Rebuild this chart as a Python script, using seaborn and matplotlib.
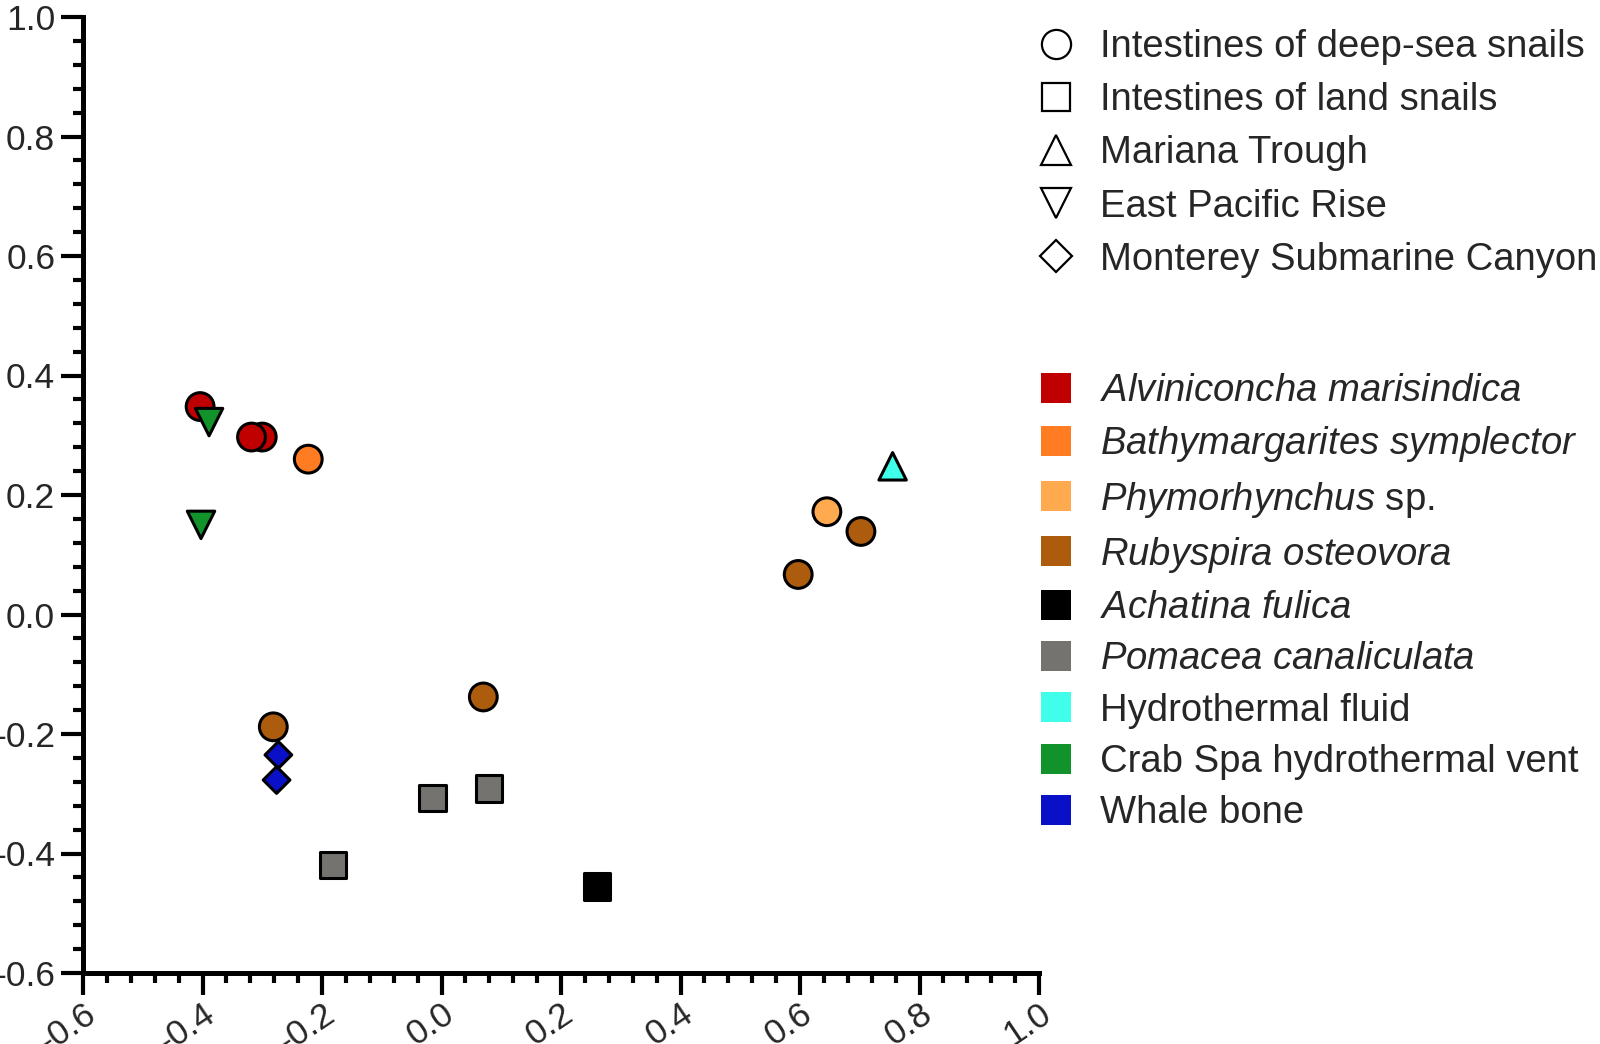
import numpy as np
import pandas as pd
import matplotlib
matplotlib.use("Agg")
import matplotlib.pyplot as plt
from matplotlib.lines import Line2D
from matplotlib.ticker import MultipleLocator, FixedLocator
import seaborn as sns

# ---------------- data ----------------
x_vals = [-0.404, -0.300, -0.318, -0.223, 0.645, -0.2815, 0.070, 0.597, 0.702,
          0.260, -0.182, -0.015, 0.080, 0.755, -0.389, -0.4025, -0.273, -0.276]
y_vals = [0.348, 0.297, 0.297, 0.260, 0.172, -0.188, -0.138, 0.067, 0.139,
          -0.455, -0.419, -0.307, -0.291, 0.248, 0.322, 0.150, -0.235, -0.277]
species = ["Alviniconcha marisindica"] * 3 + ["Bathymargarites symplector"] + \
          ["Phymorhynchus sp."] + ["Rubyspira osteovora"] * 4 + ["Achatina fulica"] + \
          ["Pomacea canaliculata"] * 3 + ["Hydrothermal fluid"] + \
          ["Crab Spa hydrothermal vent"] * 2 + ["Whale bone"] * 2
habitat = ["Intestines of deep-sea snails"] * 9 + ["Intestines of land snails"] * 4 + \
          ["Mariana Trough"] + ["East Pacific Rise"] * 2 + ["Monterey Submarine Canyon"] * 2

species_order = ["Alviniconcha marisindica", "Bathymargarites symplector", "Phymorhynchus sp.",
                 "Rubyspira osteovora", "Achatina fulica", "Pomacea canaliculata",
                 "Hydrothermal fluid", "Crab Spa hydrothermal vent", "Whale bone"]
species_labels = [r"$\mathit{Alviniconcha\ marisindica}$", r"$\mathit{Bathymargarites\ symplector}$",
                  r"$\mathit{Phymorhynchus}$ sp.", r"$\mathit{Rubyspira\ osteovora}$",
                  r"$\mathit{Achatina\ fulica}$", r"$\mathit{Pomacea\ canaliculata}$",
                  "Hydrothermal fluid", "Crab Spa hydrothermal vent", "Whale bone"]
species_colors = ["#C00000", "#FF7C22", "#FFAA4E", "#AD5C0E", "#000000", "#757370",
                  "#40FFEA", "#12922A", "#0A10C8"]
habitat_order = ["Intestines of deep-sea snails", "Intestines of land snails", "Mariana Trough",
                 "East Pacific Rise", "Monterey Submarine Canyon"]
habitat_markers = ["o", "s", "^", "v", "D"]
habitat_sizes = [400, 360, 390, 390, 185]

df = pd.DataFrame({"x": x_vals, "y": y_vals, "species": species, "habitat": habitat})

# ---------------- style ----------------
sns.set_theme(style="ticks")
plt.rcParams["font.family"] = ["Liberation Sans", "DejaVu Sans"]
plt.rcParams["mathtext.fontset"] = "custom"
plt.rcParams["mathtext.rm"] = "Liberation Sans"
plt.rcParams["mathtext.it"] = "Liberation Sans:italic"
plt.rcParams["mathtext.bf"] = "Liberation Sans:bold"

fig = plt.figure(figsize=(16, 10.44), dpi=100)
ax = fig.add_axes([83 / 1600, (1044 - 973) / 1044, 956 / 1600, 956 / 1044])

sns.scatterplot(data=df, x="x", y="y", hue="species", style="habitat", size="habitat",
                hue_order=species_order, palette=dict(zip(species_order, species_colors)),
                style_order=habitat_order, markers=dict(zip(habitat_order, habitat_markers)),
                size_order=habitat_order, sizes=dict(zip(habitat_order, habitat_sizes)),
                edgecolor="black", linewidth=2.2, alpha=1, legend=False, ax=ax, zorder=3)

ax.set_xlim(-0.6, 1.0)
ax.set_ylim(-0.6, 1.0)
ax.set_xlabel("")
ax.set_ylabel("")
ticks = [-0.6, -0.4, -0.2, 0.0, 0.2, 0.4, 0.6, 0.8, 1.0]
tick_labels = ["-0.6", "-0.4", "-0.2", "0.0", "0.2", "0.4", "0.6", "0.8", "1.0"]
ax.xaxis.set_major_locator(FixedLocator(ticks))
ax.yaxis.set_major_locator(FixedLocator(ticks))
ax.set_xticklabels(tick_labels)
ax.set_yticklabels(tick_labels)
ax.xaxis.set_minor_locator(MultipleLocator(0.04))
ax.yaxis.set_minor_locator(MultipleLocator(0.04))
for side in ["top", "right"]:
    ax.spines[side].set_visible(False)
for side in ["left", "bottom"]:
    ax.spines[side].set_linewidth(3.6)
    ax.spines[side].set_color("black")
ax.tick_params(which="major", length=16, width=3.0, color="black", labelsize=25.5, pad=4)
ax.tick_params(which="minor", length=7, width=3.0, color="black")
ax.tick_params(axis="x", which="major", pad=1.5)
for lab in ax.get_xticklabels():
    lab.set_rotation(34)
    lab.set_ha("right")
    lab.set_va("top")
    lab.set_rotation_mode("anchor")
ax.grid(False)

# ---------------- legends ----------------
fs = 27.5
shape_handles = [Line2D([], [], linestyle="none", marker=m, markersize=ms,
                        markerfacecolor="white", markeredgecolor="black", markeredgewidth=1.6)
                 for m, ms in zip(habitat_markers, [21, 20, 21, 21, 16])]
leg1 = ax.legend(shape_handles, habitat_order, loc="upper left",
                 bbox_to_anchor=(1041 / 1600, 1 - 29 / 1044), bbox_transform=fig.transFigure,
                 frameon=False, fontsize=fs, handlelength=0.78, handletextpad=0.76,
                 borderpad=0, borderaxespad=0, labelspacing=0.45)
ax.add_artist(leg1)

color_handles = [Line2D([], [], linestyle="none", marker="s", markersize=21,
                        markerfacecolor=c, markeredgewidth=0) for c in species_colors]
leg2 = ax.legend(color_handles, species_labels, loc="upper left",
                 bbox_to_anchor=(1041 / 1600, 1 - 373 / 1044), bbox_transform=fig.transFigure,
                 frameon=False, fontsize=fs, handlelength=0.78, handletextpad=0.76,
                 borderpad=0, borderaxespad=0, labelspacing=0.40)

fig.savefig("out.png", dpi=100)
